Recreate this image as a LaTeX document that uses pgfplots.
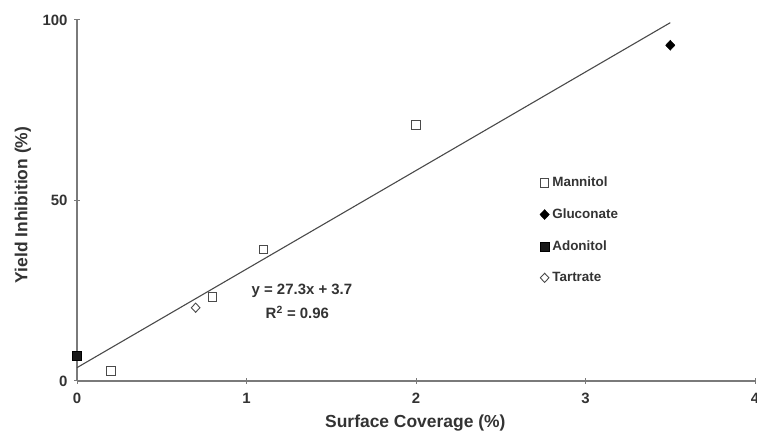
\documentclass[border=0pt]{standalone}
\usepackage{pgfplots}
\pgfplotsset{compat=1.18}
\usepackage{fontspec}
\setmainfont{Liberation Sans}
\definecolor{txt}{HTML}{333333}
\definecolor{axc}{HTML}{7A7A7A}
\definecolor{mk}{HTML}{4A4A4A}
\begin{document}
\begin{tikzpicture}[x=1bp,y=1bp]
\useasboundingbox (0,0) rectangle (757,435);
\begin{axis}[
  at={(77bp,54bp)}, anchor=south west,
  scale only axis, width=678bp, height=361bp,
  xmin=0, xmax=4, ymin=0, ymax=100,
  axis x line=bottom, axis y line=left,
  axis line style={-, axc, line width=1.3bp},
  xtick={0,1,2,3,4}, ytick={0,50,100},
  tick style={axc, line width=1bp},
  tick align=center, major tick length=6bp,
  /pgf/number format/assume math mode=true,
  tick label style={font=\fontsize{15}{17}\selectfont\bfseries, text=txt},
  xticklabel style={yshift=-6bp},
  yticklabel style={xshift=-3bp},
  xlabel={Surface Coverage (\%)},
  ylabel={Yield Inhibition (\%)},
  label style={font=\fontsize{17.5}{19}\selectfont\bfseries, text=txt},
  xlabel style={at={(axis description cs:0.499,-0.116)}, anchor=center},
  ylabel style={at={(axis description cs:-0.08,0.4875)}, anchor=center, rotate=0},
  legend style={draw=none, fill=none, at={(axis cs:2.73,56.5)}, anchor=north west,
    font=\fontsize{13.5}{15}\selectfont\bfseries, text=txt,
    row sep=20.5bp, inner sep=0pt, cells={anchor=west},
    nodes={inner xsep=3bp, inner ysep=0bp}},
  legend cell align=left,
  clip=false,
]
\addplot[only marks, mark=square, mark size=4.3bp, mark options={draw=mk, fill=white, line width=1bp}]
  coordinates {(0.2,2.8) (0.8,23.3) (1.1,36.4) (2.0,70.9)};
\addlegendentry{Mannitol}
\addplot[only marks, mark=diamond*, mark size=5bp, mark options={draw=black, fill=black, xscale=1.25}]
  coordinates {(3.5,93)};
\addlegendentry{Gluconate}
\addplot[only marks, mark=square*, mark size=4.6bp, mark options={draw=black, fill=black!90}]
  coordinates {(0,6.9)};
\addlegendentry{Adonitol}
\addplot[only marks, mark=diamond, mark size=4.6bp, mark options={draw=mk, fill=white, line width=0.9bp, xscale=1.25}]
  coordinates {(0.7,20.3)};
\addlegendentry{Tartrate}
\addplot[no marks, mk, line width=1.1bp, forget plot] coordinates {(0,3.7) (3.5,99.25)};
\node[font=\fontsize{15}{17}\selectfont\bfseries, text=txt] at (axis cs:1.327,24.9) {y = 27.3x + 3.7};
\node[font=\fontsize{15}{17}\selectfont\bfseries, text=txt] at (axis cs:1.30,19.1) {R\textsuperscript{2} = 0.96};
\end{axis}
\end{tikzpicture}
\end{document}
